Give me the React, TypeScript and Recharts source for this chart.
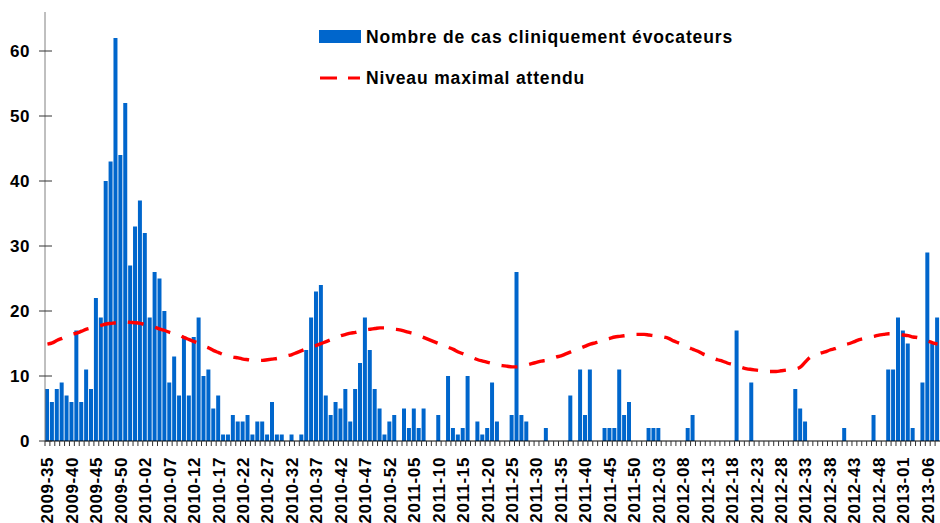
import { Bar, ComposedChart, Line, XAxis, YAxis } from "recharts";

// ISO weeks covered by the chart: [year, first week, last week]
const seasons: [string, number, number][] = [
  ["2009", 35, 53],
  ["2010", 1, 52],
  ["2011", 1, 52],
  ["2012", 1, 52],
  ["2013", 1, 8]
];

const weeks: string[] = seasons.flatMap(([year, from, to]) => {
  const out: string[] = [];
  for (let w = from; w <= to; w++) out.push(`${year}-${String(w).padStart(2, "0")}`);
  return out;
});

// Nombre de cas cliniquement évocateurs (one value per week)
const cases = [
  8, 6, 8, 9, 7, 6, 17, 6, 11, 8,
  22, 19, 40, 43, 62, 44, 52, 27, 33, 37,
  32, 19, 26, 25, 20, 9, 13, 7, 16, 7,
  16, 19, 10, 11, 5, 7, 1, 1, 4, 3,
  3, 4, 1, 3, 3, 1, 6, 1, 1, 0,
  1, 0, 1, 14, 19, 23, 24, 7, 4, 6,
  5, 8, 3, 8, 12, 19, 14, 8, 5, 1,
  3, 4, 0, 5, 2, 5, 2, 5, 0, 0,
  4, 0, 10, 2, 1, 2, 10, 0, 3, 1,
  2, 9, 3, 0, 0, 4, 26, 4, 3, 0,
  0, 0, 2, 0, 0, 0, 0, 7, 0, 11,
  4, 11, 0, 0, 2, 2, 2, 11, 4, 6,
  0, 0, 0, 2, 2, 2, 0, 0, 0, 0,
  0, 2, 4, 0, 0, 0, 0, 0, 0, 0,
  0, 17, 0, 0, 9, 0, 0, 0, 0, 0,
  0, 0, 0, 8, 5, 3, 0, 0, 0, 0,
  0, 0, 0, 2, 0, 0, 0, 0, 0, 4,
  0, 0, 11, 11, 19, 17, 15, 2, 0, 9,
  29, 15, 19
];

// Niveau maximal attendu
const expected = [
  14.9, 15.1, 15.5, 15.8, 16.1, 16.4, 16.6, 16.9, 17.2, 17.4,
  17.6, 17.8, 18.0, 18.1, 18.2, 18.25, 18.3, 18.25, 18.2, 18.1,
  17.9, 17.8, 17.5, 17.2, 17.0, 16.7, 16.5, 16.3, 15.9, 15.6,
  15.3, 15.0, 14.6, 14.3, 13.9, 13.6, 13.3, 13.1, 12.9, 12.8,
  12.6, 12.5, 12.4, 12.4, 12.4, 12.5, 12.6, 12.7, 12.9, 13.1,
  13.3, 13.6, 13.9, 14.2, 14.5, 14.7, 15.0, 15.3, 15.6, 15.9,
  16.2, 16.4, 16.6, 16.7, 16.9, 17.1, 17.2, 17.3, 17.4, 17.4,
  17.3, 17.2, 17.1, 16.9, 16.7, 16.5, 16.2, 15.9, 15.6, 15.3,
  15.0, 14.7, 14.4, 14.1, 13.7, 13.4, 13.1, 12.8, 12.5, 12.3,
  12.1, 11.9, 11.7, 11.6, 11.5, 11.4, 11.4, 11.5, 11.7, 11.9,
  12.1, 12.3, 12.4, 12.6, 12.9, 13.1, 13.4, 13.7, 14.0, 14.3,
  14.6, 14.9, 15.1, 15.3, 15.6, 15.8, 16.0, 16.1, 16.2, 16.3,
  16.4, 16.4, 16.4, 16.3, 16.2, 16.1, 16.0, 15.8, 15.4, 15.1,
  14.8, 14.4, 14.1, 13.8, 13.4, 13.1, 12.8, 12.5, 12.3, 12.0,
  11.8, 11.6, 11.3, 11.1, 11.0, 10.9, 10.8, 10.7, 10.7, 10.7,
  10.8, 10.9, 11.0, 11.1, 11.4, 12.2, 12.9, 13.2, 13.5, 13.7,
  14.0, 14.2, 14.5, 14.8, 15.0, 15.3, 15.6, 15.8, 16.0, 16.1,
  16.3, 16.4, 16.5, 16.5, 16.4, 16.3, 16.2, 16.0, 15.9, 15.6,
  15.4, 15.1, 14.9
];

const yTicks = [0, 10, 20, 30, 40, 50, 60];

const data = weeks.map((week, i) => ({ week, cases: cases[i], expected: expected[i] }));

const W = 940;
const H = 523;
const Y_AXIS_W = 45;
const X_AXIS_H = 82;
const BAND = (W - Y_AXIS_W) / weeks.length;
const FONT = '"Liberation Sans", Arial, sans-serif';
const BLUE = "#0066cc";
const RED = "#ff0000";

function WeekTick(props: any) {
  const { x, y, index, payload } = props;
  const edge = x - BAND / 2;
  const ty = y + 16;
  return (
    <g>
      <line x1={edge} x2={edge} y1={y} y2={y + 5} stroke="#333" strokeWidth={1} />
      {index % 5 === 0 && (
        <text
          x={x}
          y={ty}
          dy="0.35em"
          transform={`rotate(-90 ${x} ${ty})`}
          textAnchor="end"
          fontFamily={FONT}
          fontWeight="bold"
          fontSize={17}
          letterSpacing={0.6}
          fill="#000"
        >
          {payload.value}
        </text>
      )}
    </g>
  );
}

function CountTick(props: any) {
  const { x, y, payload } = props;
  return (
    <g>
      <line x1={x - 6} x2={x + 7} y1={y} y2={y} stroke="#333" strokeWidth={1} />
      <text
        x={x - 15}
        y={y}
        dy="0.35em"
        textAnchor="end"
        fontFamily={FONT}
        fontWeight="bold"
        fontSize={17}
        letterSpacing={0.6}
        fill="#000"
      >
        {payload.value}
      </text>
    </g>
  );
}

export default function App() {
  return (
    <div style={{ position: "absolute", left: 0, top: 0, width: W, height: H, background: "#fff" }}>
      <ComposedChart width={W} height={H} data={data} margin={{ top: 12, right: 0, bottom: 0, left: 0 }}>
        <XAxis
          dataKey="week"
          interval={0}
          height={X_AXIS_H}
          tickLine={false}
          tickSize={0}
          tickMargin={0}
          axisLine={{ stroke: "#000" }}
          tick={<WeekTick />}
        />
        <YAxis
          width={Y_AXIS_W}
          domain={[0, 66]}
          ticks={yTicks}
          tickLine={false}
          tickSize={0}
          tickMargin={0}
          axisLine={{ stroke: "#808080" }}
          tick={<CountTick />}
        />
        <Bar dataKey="cases" fill={BLUE} barSize={4} isAnimationActive={false} />
        <Line
          type="monotone"
          dataKey="expected"
          stroke={RED}
          strokeWidth={3.4}
          strokeDasharray="16 12"
          dot={false}
          activeDot={false}
          isAnimationActive={false}
        />
      </ComposedChart>
      <svg
        width={460}
        height={70}
        style={{ position: "absolute", left: 318, top: 24 }}
        fontFamily={FONT}
        fontWeight="bold"
        fontSize={17.5}
        letterSpacing={0.85}
      >
        <rect x={1} y={6} width={42} height={13} fill={BLUE} />
        <text x={48} y={13} dy="0.35em" fill="#000">
          Nombre de cas cliniquement évocateurs
        </text>
        <line x1={2} x2={42} y1={54} y2={54} stroke={RED} strokeWidth={3} strokeDasharray="17 11" />
        <text x={48} y={54} dy="0.35em" fill="#000">
          Niveau maximal attendu
        </text>
      </svg>
    </div>
  );
}
